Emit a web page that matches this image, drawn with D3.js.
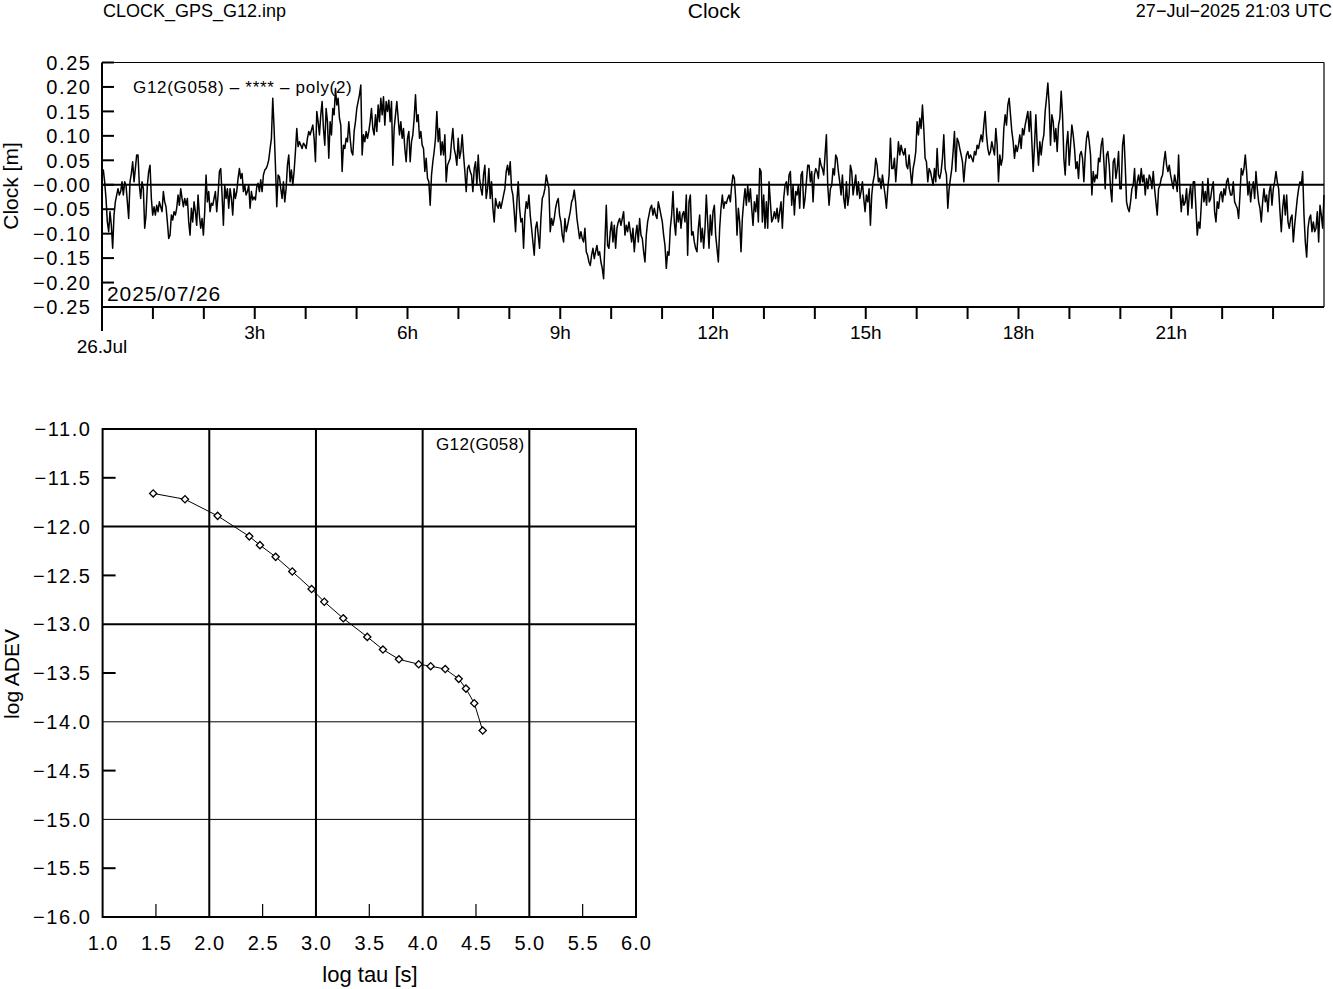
<!DOCTYPE html>
<html><head><meta charset="utf-8">
<script src="https://cdn.jsdelivr.net/npm/d3@7"></script>
<style>
html,body{margin:0;padding:0;background:#fff;}
svg{display:block;font-family:"Liberation Sans",Arial,Helvetica,sans-serif;}
</style></head><body>
<svg id="chart" width="1333" height="989"></svg>
<script>
// ---------------- DATA ----------------
// Clock residuals [m], G12(G058), epochs evenly spaced over 26 Jul 00h..24h
const clock00h = [0.020,0.030,0.006,-0.028,-0.076,-0.096,-0.055,-0.083,-0.130,-0.062,
-0.035,-0.021,-0.008,-0.021,-0.014,0.006,-0.021,0.006,-0.001,-0.035,
-0.069,0.006,0.023,0.047,0.006,0.033,0.061,0.061,-0.001,-0.028,
0.006,-0.008,-0.089,-0.062,-0.001,0.027,0.040,-0.028,-0.062,-0.045,
-0.062,-0.042,-0.055,-0.035,-0.045,-0.055,-0.014,-0.035,-0.045,-0.076,
-0.110,-0.103,-0.062,-0.072,-0.055,-0.062,-0.048,-0.021,-0.042,-0.008,
-0.028,-0.045,-0.028,-0.042,-0.028,-0.076,-0.103,-0.048,-0.076,-0.035,
-0.055,-0.083,-0.021,-0.062,-0.089,-0.069,-0.103,-0.055,0.020,-0.035,
-0.014,-0.055,-0.038,-0.042,-0.028,-0.014,-0.055,-0.021,0.027,0.033,
-0.021,-0.083,-0.001,-0.028,-0.008,-0.048,-0.008,-0.028,-0.062,-0.008,
-0.028,-0.014,0.013,0.033,0.013,0.023,-0.014,-0.001,-0.021,-0.014,
-0.001,-0.048,-0.014,-0.031,-0.025,-0.031,-0.004,0.003,-0.014,0.010,
-0.014,0.020,0.030,0.033,0.040,0.051,0.074,0.095,0.177,0.115,
0.040,-0.045,0.020,0.016,-0.008,-0.028,0.006,-0.035,-0.008,0.040,
0.061,0.006,0.030,-0.001,0.027,0.068,0.115,0.078,0.088];
const clock04h = [0.081,0.074,0.085,0.081,0.074,0.095,0.109,0.102,0.112,0.122,
0.095,0.047,0.150,0.129,0.102,0.143,0.170,0.115,0.081,0.156,
0.129,0.054,0.129,0.102,0.156,0.143,0.197,0.163,0.177,0.136,
0.122,0.027,0.081,0.074,0.095,0.088,0.129,0.095,0.068,0.061,
0.109,0.129,0.156,0.170,0.184,0.204,0.061,0.102,0.088,0.109,
0.095,0.109,0.129,0.156,0.115,0.102,0.143,0.109,0.163,0.129,
0.177,0.143,0.180,0.122,0.170,0.150,0.173,0.129,0.170,0.040,
0.115,0.143,0.170,0.136,0.102,0.129,0.095,0.115,0.074,0.047,
0.095,0.109,0.047,0.088,0.102,0.136,0.184,0.129,0.143,0.095,
0.109,0.081,0.074,0.027,0.054,0.013,0.006,-0.042,0.020,0.047,
0.068,0.095,0.150,0.088,0.115,0.061,0.088,0.061,0.102,0.006,
0.040,0.047,0.054,0.088,0.115,0.074,0.061,0.040,0.095,0.054,
0.068,0.102,0.061,0.027,-0.014,0.033,0.040,0.027,0.020,-0.014,
0.033,0.047,-0.001,0.061,0.013,-0.008,-0.021,0.020,0.040,-0.028,
-0.008,0.033,-0.028,0.006,-0.048,-0.076,-0.028,-0.042,-0.048,-0.035,
-0.048,-0.035,-0.021,-0.008];
const clock08h = [0.027,0.040,0.020,0.047,-0.008,-0.021,-0.055,-0.096,-0.035,0.006,
-0.048,-0.076,-0.069,-0.130,-0.062,-0.035,-0.048,-0.021,-0.062,-0.089,
-0.117,-0.144,-0.089,-0.076,-0.103,-0.130,-0.069,-0.028,-0.021,-0.008,
0.020,0.006,-0.008,-0.096,-0.069,-0.083,-0.069,-0.048,-0.035,-0.028,
-0.062,-0.076,-0.103,-0.117,-0.069,-0.096,-0.083,-0.069,-0.055,-0.035,
-0.028,-0.011,-0.035,-0.069,-0.089,-0.110,-0.096,-0.110,-0.117,-0.089,
-0.137,-0.144,-0.158,-0.165,-0.144,-0.130,-0.151,-0.137,-0.124,-0.144,
-0.137,-0.158,-0.171,-0.192,-0.117,-0.042,-0.124,-0.130,-0.096,-0.076,
-0.117,-0.083,-0.130,-0.089,-0.076,-0.069,-0.083,-0.069,-0.055,-0.103,
-0.083,-0.096,-0.076,-0.096,-0.117,-0.089,-0.137,-0.103,-0.083,-0.117,
-0.069,-0.103,-0.110,-0.137,-0.158,-0.103,-0.076,-0.062,-0.048,-0.042,
-0.062,-0.048,-0.062,-0.069,-0.035,-0.048,-0.062,-0.076,-0.103,-0.124,
-0.171,-0.137,-0.144,-0.089,-0.062,-0.014,-0.076,-0.103,-0.048,-0.076,
-0.055,-0.089,-0.062,-0.055,-0.076,-0.021,-0.144,-0.035,-0.021,-0.103,
-0.096,-0.117,-0.130,-0.137,-0.089,-0.062,-0.117,-0.089,-0.130,-0.089,
-0.021,-0.076,-0.130];
const clock12h = [-0.062,-0.103,-0.055,-0.042,-0.103,-0.130,-0.158,-0.089,-0.048,-0.021,
-0.048,-0.035,-0.038,-0.028,-0.021,-0.035,-0.001,0.020,0.013,-0.028,
-0.103,-0.048,-0.076,-0.137,-0.069,-0.035,-0.008,-0.042,-0.001,-0.035,
-0.008,-0.048,-0.083,-0.035,-0.055,-0.021,-0.076,0.033,0.027,-0.076,
-0.021,-0.089,-0.035,-0.089,0.006,-0.035,-0.076,-0.069,-0.055,-0.069,
-0.048,-0.076,-0.055,-0.035,-0.089,-0.028,-0.001,0.006,-0.021,0.020,
0.027,-0.042,-0.001,-0.062,-0.014,-0.021,-0.001,-0.048,0.020,0.027,
-0.048,-0.028,0.006,0.040,0.040,0.006,0.027,-0.035,0.020,0.033,
0.027,0.013,0.054,0.040,0.033,0.020,0.061,0.102,-0.001,-0.042,
-0.008,-0.001,0.033,0.020,0.061,0.054,0.027,0.006,-0.021,0.020,
-0.028,-0.048,0.006,-0.042,-0.021,0.040,0.027,-0.021,-0.001,0.020,
-0.021,0.006,-0.028,-0.014,0.006,-0.028,-0.055,-0.021,-0.035,-0.008,
-0.083,-0.021,0.006,0.020,0.054,0.040,0.006,0.013,-0.008,0.020,
-0.001,-0.021,-0.048,-0.008,0.020,0.095,0.033,0.033,0.054,0.006,
0.047,0.088,0.061,0.081,0.068,0.061,0.074,0.040,0.033,0.061,
0.027,-0.001,0.033,0.047];
const clock16h = [0.068,0.129,0.102,0.136,0.115,0.163,0.115,0.054,0.047,0.006,
0.033,0.027,0.013,-0.001,0.033,0.006,0.074,0.020,0.013,0.027,
0.054,0.102,0.033,0.020,-0.048,-0.008,0.013,0.033,0.068,0.109,
0.027,0.095,0.088,0.074,0.061,0.047,0.006,0.040,0.061,0.068,
0.054,0.061,0.054,0.047,0.068,0.061,0.081,0.074,0.088,0.102,
0.088,0.122,0.150,0.102,0.074,0.061,0.068,0.088,0.074,0.061,
0.115,0.081,0.006,0.061,0.040,0.054,0.115,0.143,0.122,0.163,
0.177,0.143,0.109,0.088,0.054,0.081,0.068,0.081,0.102,0.074,
0.115,0.102,0.122,0.136,0.150,0.109,0.150,0.088,0.027,0.081,
0.143,0.081,0.040,0.088,0.061,0.088,0.102,0.150,0.177,0.208,
0.163,0.081,0.143,0.129,0.088,0.115,0.068,0.122,0.136,0.191,
0.143,0.054,0.020,0.081,0.109,0.040,0.081,0.122,0.102,0.074,
0.033,0.047,0.013,0.061,0.068,0.054,0.006,0.061,0.095,0.109,
0.088,0.061,-0.021,0.027,0.006,0.020,0.013,0.054,0.047,0.081,
0.095,0.047,-0.008,0.061,0.068,0.040,-0.008,-0.035,0.047,0.054,
0.013,0.033,0.068,-0.008];
const clock20h = [-0.008,0.081,0.102,0.040,-0.035,-0.048,-0.055,-0.035,-0.008,-0.001,
0.033,-0.028,0.006,0.020,-0.001,0.033,0.006,0.020,-0.021,0.013,
-0.008,0.020,0.013,-0.008,0.027,-0.008,-0.035,-0.062,-0.008,-0.001,
0.013,0.020,0.047,0.068,0.040,0.027,0.040,0.020,0.006,-0.008,
0.020,0.006,-0.014,0.061,-0.014,-0.055,-0.021,-0.042,-0.035,-0.008,
-0.062,-0.021,-0.001,-0.048,0.006,0.006,-0.048,-0.103,-0.076,-0.089,
-0.042,0.006,-0.035,-0.014,-0.042,0.013,-0.035,-0.028,-0.008,0.006,
-0.055,-0.076,-0.035,-0.048,-0.021,-0.014,-0.035,-0.008,-0.021,0.006,
0.013,-0.008,-0.021,-0.021,0.006,-0.035,-0.042,-0.048,-0.069,-0.021,
0.033,0.020,0.033,0.061,0.027,-0.021,0.006,-0.035,-0.008,0.006,
-0.028,0.027,-0.008,-0.035,-0.048,-0.076,-0.035,-0.008,-0.035,-0.021,
-0.055,-0.014,-0.001,-0.042,-0.008,0.006,0.027,0.006,-0.008,-0.055,
-0.096,-0.048,-0.021,-0.062,-0.021,-0.076,-0.089,-0.069,-0.062,-0.117,
-0.083,-0.055,-0.028,-0.008,0.006,-0.001,0.027,-0.062,-0.117,-0.148,
-0.089,-0.069,-0.062,-0.096,-0.076,-0.096,-0.089,-0.055,-0.117,-0.042,
-0.062,-0.089,-0.021];

const clockYTicks = [-0.25,-0.20,-0.15,-0.10,-0.05,0.00,0.05,0.10,0.15,0.20,0.25];
const clockYLabels = ["\u22120.25","\u22120.20","\u22120.15","\u22120.10","\u22120.05","\u22120.00","0.05","0.10","0.15","0.20","0.25"];
const hourTicks = d3.range(0, 24);
const hourLabelValues = [3,6,9,12,15,18,21];
const hourLabels = ["3h","6h","9h","12h","15h","18h","21h"];
const dayLabel = "26.Jul";

// Allan deviation
const logTau  = [1.474,1.772,2.078,2.375,2.475,2.622,2.778,2.959,3.078,3.256,3.481,3.628,3.778,3.963,4.075,4.212,4.338,4.406,4.484,4.563];
const logAdev = [-11.66,-11.72,-11.89,-12.10,-12.19,-12.31,-12.46,-12.64,-12.77,-12.94,-13.13,-13.26,-13.36,-13.41,-13.43,-13.46,-13.56,-13.66,-13.81,-14.09];
const adevYTicks = [-16,-15.5,-15,-14.5,-14,-13.5,-13,-12.5,-12,-11.5,-11];
const tauTicks = [1,1.5,2,2.5,3,3.5,4,4.5,5,5.5,6];
const adevMajorGrid = [-12,-13];
const adevMinorGrid = [-14,-15];
const tauGrid = [2,3,4,5];

// ---------------- DRAW ----------------
const svg = d3.select("#chart");
const clockValues = [].concat(clock00h, clock04h, clock08h, clock12h, clock16h, clock20h);
const stepH = 24 / (clockValues.length - 1);
const clockData = clockValues.map((v, i) => ({t: i * stepH, v}));
const LS = 1.6; // extra glyph spacing to mimic the reference raster font

// Header
svg.append("text").attr("x",103).attr("y",17).attr("font-size",18).text("CLOCK_GPS_G12.inp");
svg.append("text").attr("x",714).attr("y",18).attr("font-size",21).attr("text-anchor","middle").text("Clock");
svg.append("text").attr("x",1332).attr("y",17).attr("font-size",18).attr("text-anchor","end").text("27\u2212Jul\u22122025 21:03 UTC");

// --- Top chart ---
const L = 102, R = 1324, T = 62.5, B = 307;
const xs = d3.scaleLinear().domain([0,24]).range([L,R]);
const ys = d3.scaleLinear().domain([-0.25,0.25]).range([B,T]);
const gTop = svg.append("g");

gTop.append("line").attr("x1",L).attr("x2",R).attr("y1",T).attr("y2",T).attr("stroke","#000").attr("stroke-width",1.2);
gTop.append("line").attr("x1",R).attr("x2",R).attr("y1",T).attr("y2",B).attr("stroke","#000").attr("stroke-width",1.2);

gTop.selectAll(".yt").data(clockYTicks).enter().append("line")
  .attr("x1",L).attr("x2",L+12).attr("y1",d=>ys(d)).attr("y2",d=>ys(d))
  .attr("stroke","#000").attr("stroke-width",2);
gTop.selectAll(".yl").data(clockYTicks).enter().append("text")
  .attr("x",90+LS).attr("y",d=>ys(d)).attr("dy","0.36em").attr("text-anchor","end")
  .attr("font-size",20).attr("letter-spacing",LS).text((d,i)=>clockYLabels[i]);

gTop.selectAll(".xt").data(hourTicks).enter().append("line")
  .attr("x1",d=>xs(d)).attr("x2",d=>xs(d)).attr("y1",B).attr("y2",d=> d===0 ? B+24 : B+12)
  .attr("stroke","#000").attr("stroke-width",2);
gTop.selectAll(".xl").data(hourLabelValues).enter().append("text")
  .attr("x",d=>xs(d)).attr("y",339).attr("text-anchor","middle").attr("font-size",19)
  .text((d,i)=>hourLabels[i]);
gTop.append("text").attr("x",xs(0)).attr("y",353).attr("text-anchor","middle").attr("font-size",19).text(dayLabel);

gTop.append("line").attr("x1",L).attr("x2",R).attr("y1",ys(0)).attr("y2",ys(0)).attr("stroke","#000").attr("stroke-width",2);

gTop.append("path").datum(clockData)
  .attr("d", d3.line().x(d=>xs(d.t)).y(d=>ys(d.v)))
  .attr("fill","none").attr("stroke","#000").attr("stroke-width",1.5).attr("stroke-linejoin","round");

gTop.append("line").attr("x1",L).attr("x2",L).attr("y1",T).attr("y2",B).attr("stroke","#000").attr("stroke-width",2);
gTop.append("line").attr("x1",L).attr("x2",R).attr("y1",B).attr("y2",B).attr("stroke","#000").attr("stroke-width",2);

gTop.append("text").attr("x",133).attr("y",93).attr("font-size",17).attr("letter-spacing",0.7)
  .text("G12(G058) \u2013 **** \u2013 poly(2)");
gTop.append("text").attr("x",107).attr("y",301).attr("font-size",21).attr("letter-spacing",0.9).text("2025/07/26");
gTop.append("text").attr("transform","translate(18,186) rotate(-90)").attr("text-anchor","middle").attr("font-size",21).text("Clock [m]");

// --- Bottom chart ---
const L2 = 102.6, R2 = 636, T2 = 429, B2 = 917;
const xb = d3.scaleLinear().domain([1,6]).range([L2,R2]);
const yb = d3.scaleLinear().domain([-16,-11]).range([B2,T2]);
const gBot = svg.append("g");

gBot.selectAll(".gv").data(tauGrid).enter().append("line")
  .attr("x1",d=>xb(d)).attr("x2",d=>xb(d)).attr("y1",T2).attr("y2",B2).attr("stroke","#000").attr("stroke-width",2);
gBot.selectAll(".gh").data(adevMajorGrid).enter().append("line")
  .attr("x1",L2).attr("x2",R2).attr("y1",d=>yb(d)).attr("y2",d=>yb(d)).attr("stroke","#000").attr("stroke-width",2);
gBot.selectAll(".gh2").data(adevMinorGrid).enter().append("line")
  .attr("x1",L2).attr("x2",R2).attr("y1",d=>yb(d)).attr("y2",d=>yb(d)).attr("stroke","#000").attr("stroke-width",1);

gBot.selectAll(".bxt").data(tauTicks.filter(d=>d%1!==0)).enter().append("line")
  .attr("x1",d=>xb(d)).attr("x2",d=>xb(d)).attr("y1",B2).attr("y2",B2-13).attr("stroke","#000").attr("stroke-width",1.2);
gBot.selectAll(".byt").data(adevYTicks.filter(d=>d%1!==0)).enter().append("line")
  .attr("x1",L2).attr("x2",L2+13).attr("y1",d=>yb(d)).attr("y2",d=>yb(d)).attr("stroke","#000").attr("stroke-width",2);

gBot.append("rect").attr("x",L2).attr("y",T2).attr("width",R2-L2).attr("height",B2-T2)
  .attr("fill","none").attr("stroke","#000").attr("stroke-width",2);

gBot.selectAll(".bxl").data(tauTicks).enter().append("text")
  .attr("x",d=>xb(d)+0.5).attr("y",950).attr("text-anchor","middle").attr("font-size",20).attr("letter-spacing",1)
  .text(d=>d3.format(".1f")(d));
gBot.selectAll(".byl").data(adevYTicks).enter().append("text")
  .attr("x",90+LS).attr("y",d=>yb(d)).attr("dy","0.36em").attr("text-anchor","end").attr("font-size",20)
  .attr("letter-spacing",LS).text(d=>d3.format(".1f")(d));

const adevData = logTau.map((t,i)=>({t, a: logAdev[i]}));
gBot.append("path").datum(adevData)
  .attr("d", d3.line().x(d=>xb(d.t)).y(d=>yb(d.a)))
  .attr("fill","none").attr("stroke","#000").attr("stroke-width",1);
gBot.selectAll(".mk").data(adevData).enter().append("path")
  .attr("d", d3.symbol(d3.symbolSquare, 26))
  .attr("transform", d=>`translate(${xb(d.t)},${yb(d.a)}) rotate(45)`)
  .attr("fill","#fff").attr("stroke","#000").attr("stroke-width",1.3);

gBot.append("text").attr("x",436).attr("y",450).attr("font-size",17).attr("letter-spacing",0.4).text("G12(G058)");
gBot.append("text").attr("x",370).attr("y",982).attr("text-anchor","middle").attr("font-size",22).text("log tau [s]");
gBot.append("text").attr("transform","translate(19,674) rotate(-90)").attr("text-anchor","middle").attr("font-size",21).text("log ADEV");
</script>
</body></html>
